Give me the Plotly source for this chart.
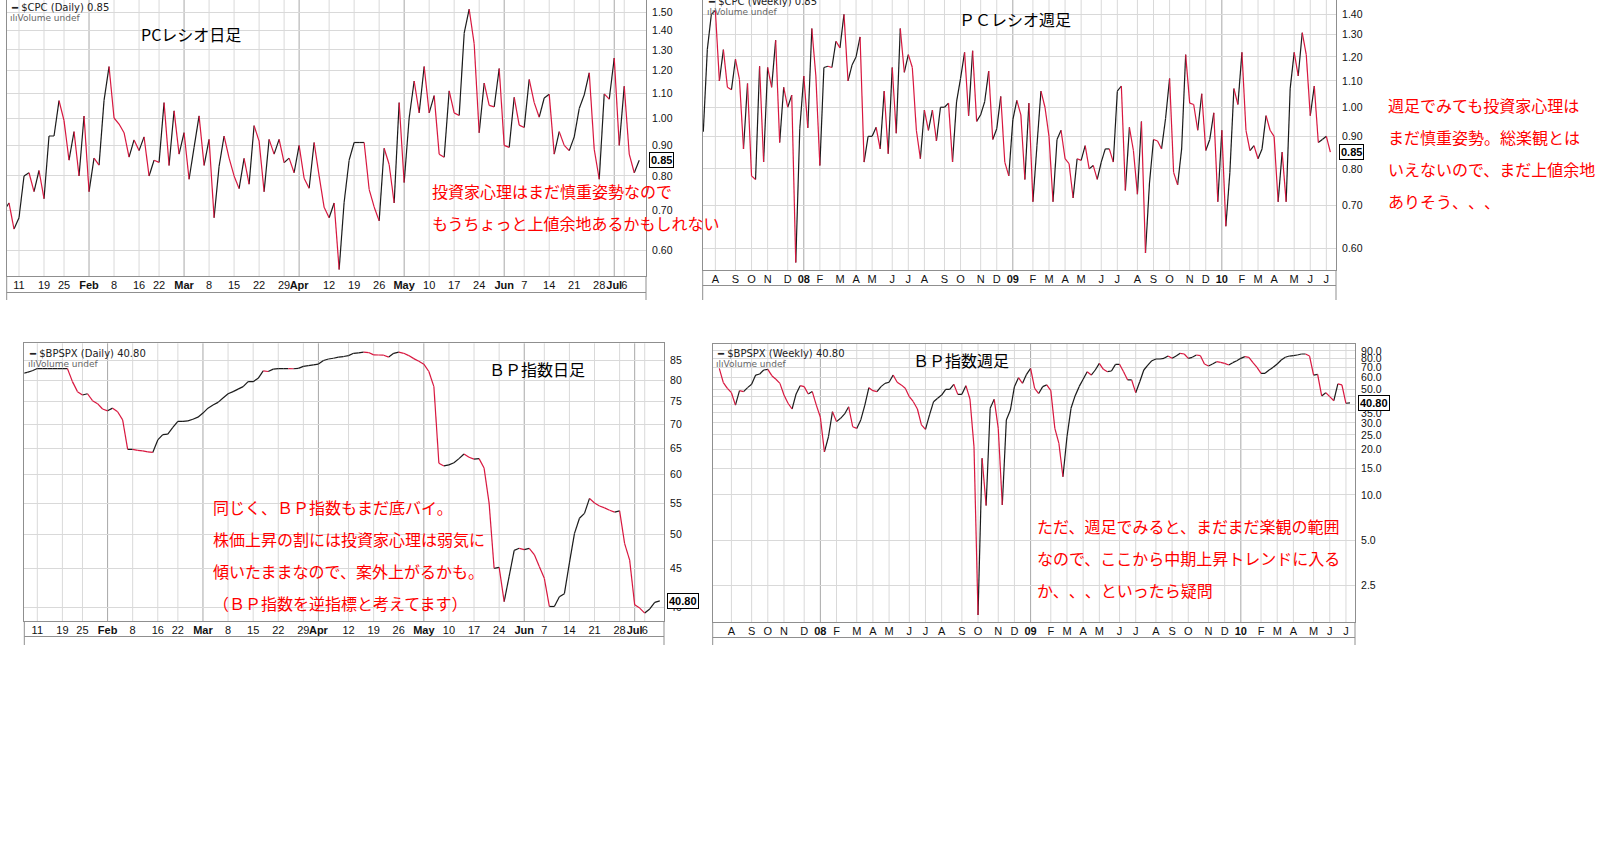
import numpy as np
import pandas as pd
import plotly.graph_objects as go

W, H = 1614, 864

# ---------------- data ----------------
holidays_2010 = ['2010-01-18', '2010-02-15', '2010-04-02', '2010-05-31', '2010-07-05']
daily_dates = [d.strftime('%Y-%m-%d') for d in pd.bdate_range('2010-01-06', '2010-07-09')
               if d.strftime('%Y-%m-%d') not in holidays_2010]
weekly_dates = list(pd.date_range('2007-07-13', periods=157, freq='7D'))

# $CPC daily (put/call ratio)
pc_daily = [
    0.70,
    0.721, 0.652, 0.681, 0.80, 0.81, 0.753, 0.817, 0.733, 0.933, 0.933, 1.069,
    0.99, 0.85, 0.949, 0.80, 1.008, 0.753, 0.857, 0.834, 1.07, 1.219,
    1.00, 0.977, 0.945, 0.86, 0.919, 0.882, 0.93, 0.80, 0.85, 0.843,
    1.061, 0.833, 1.028, 0.87, 0.945, 0.79, 0.893, 1.008, 0.833, 0.921,
    0.681, 0.83, 0.933, 0.857, 0.80, 0.762, 0.856, 0.775, 0.971, 0.915,
    0.753, 0.921, 0.87, 0.921, 0.842, 0.857, 0.81, 0.90, 0.793, 0.763,
    0.91, 0.80, 0.709, 0.681, 0.721, 0.558, 0.723, 0.85, 0.91, 0.91,
    0.91, 0.76, 0.71, 0.673, 0.89, 0.836, 0.721, 1.061, 0.78, 1.00,
    1.153, 1.02, 1.219, 1.02, 1.09, 0.87, 0.86, 1.11, 1.02, 1.01,
    1.386, 1.52, 1.33, 0.945, 1.144, 1.05, 1.044, 1.21, 0.90, 0.893,
    1.083, 0.973, 0.964, 1.16, 1.061, 1.003, 1.08, 1.096, 0.87, 0.949,
    0.90, 0.882, 0.93, 1.037, 1.093, 1.19, 0.886, 0.79, 1.097, 1.075,
    1.26, 0.90, 1.13, 0.87, 0.81, 0.85,
]

# $BPSPX daily (bullish percent index)
bp_daily = [
    81.7,
    82.0, 82.4, 82.95, 82.95, 82.95, 82.95, 82.95, 82.95, 82.95, 79.7, 77.3,
    76.5, 76.8, 75.2, 74.5, 73.3, 72.9, 73.5, 72.7, 70.9, 64.8,
    64.8, 64.6, 64.5, 64.3, 64.2, 66.7, 67.8, 67.9, 69.3, 70.6,
    70.6, 70.7, 71.05, 71.5, 72.4, 73.5, 74.2, 74.8, 75.8, 76.8,
    77.3, 77.9, 78.5, 79.7, 79.7, 80.5, 82.35, 82.2, 82.8, 82.95,
    82.95, 82.95, 82.9, 83.0, 83.5, 83.7, 83.9, 84.1, 85.0, 85.4,
    85.6, 85.9, 86.05, 86.3, 86.9, 87.0, 87.2, 87.1, 86.5, 86.45,
    86.4, 85.9, 86.9, 87.2, 86.9, 86.3, 85.5, 84.8, 84.06, 82.2,
    78.5, 62.1, 61.6, 61.8, 62.2, 63.0, 63.9, 63.25, 62.9, 63.0,
    61.2, 55.0, 45.05, 45.2, 40.7, 44.0, 47.6, 47.9, 47.7, 47.9,
    47.0, 45.3, 43.7, 40.1, 40.1, 41.3, 41.7, 45.8, 50.1, 52.5,
    53.3, 55.8, 55.0, 54.5, 54.2, 53.8, 53.5, 53.7, 48.6, 46.2,
    40.3, 39.9, 39.3, 39.8, 40.6, 40.8,
]

# $CPC weekly
pc_weekly = [
    0.915, 1.232, 1.40, 1.42, 1.10, 1.232, 1.075, 1.065, 1.19, 1.105,
    0.86, 1.09, 0.78, 0.77, 1.16, 0.82, 1.155, 1.075, 1.275, 0.88,
    1.075, 1.00, 1.045, 0.57, 0.925, 1.12, 0.928, 1.33, 1.12, 0.81,
    1.155, 1.16, 1.155, 1.27, 1.24, 1.40, 1.10, 1.165, 1.20, 1.29,
    0.82, 0.90, 0.90, 0.93, 0.86, 1.06, 0.845, 1.155, 0.91, 1.33,
    1.135, 1.21, 1.155, 0.92, 0.83, 0.99, 0.92, 0.99, 0.885, 1.00,
    1.00, 1.015, 0.82, 1.02, 1.11, 1.22, 0.97, 1.227, 0.95, 0.973,
    1.02, 1.14, 0.89, 0.925, 1.04, 0.82, 0.78, 0.955, 1.025, 0.973,
    0.77, 1.015, 0.71, 0.87, 1.06, 1.00, 0.90, 0.71, 0.89, 0.92,
    0.83, 0.815, 0.72, 0.83, 0.825, 0.87, 0.80, 0.81, 0.77, 0.82,
    0.86, 0.86, 0.82, 1.06, 1.08, 0.74, 0.93, 0.855, 0.73, 0.95,
    0.59, 0.76, 0.89, 0.885, 0.86, 0.96, 1.11, 0.79, 0.755, 0.86,
    1.21, 1.015, 1.01, 0.92, 1.05, 0.855, 0.89, 0.98, 0.71, 0.92,
    0.65, 0.79, 1.07, 1.01, 1.22, 0.92, 0.855, 0.87, 0.83, 0.86,
    0.97, 0.92, 0.90, 0.71, 0.85, 0.71, 1.07, 1.22, 1.12, 1.31,
    1.21, 0.97, 1.08, 0.88, 0.89, 0.90, 0.85,
]

# $BPSPX weekly
bp_weekly = [
    69.0, 55.5, 50.9, 47.6, 39.4, 49.1, 48.4, 51.4, 54.1, 62.3,
    63.3, 67.3, 68.0, 61.7, 58.4, 54.9, 45.9, 40.5, 37.1, 46.7,
    53.0, 52.2, 46.7, 48.4, 39.4, 32.7, 19.3, 24.3, 35.6, 30.6,
    32.2, 34.4, 38.4, 28.3, 27.6, 31.4, 39.4, 51.4, 49.1, 48.4,
    52.2, 54.9, 55.8, 62.3, 55.8, 53.6, 50.9, 44.8, 41.5, 37.1,
    29.1, 27.2, 33.9, 41.5, 43.7, 45.9, 50.1, 50.1, 54.1, 46.4,
    46.4, 53.0, 43.2, 20.9, 1.60, 17.5, 8.5, 37.5, 43.0, 27.6,
    8.57, 31.4, 36.5, 52.2, 59.9, 54.9, 63.0, 69.0, 50.9, 47.0,
    52.2, 53.6, 49.1, 27.6, 21.97, 13.2, 24.3, 37.5, 45.3, 52.2,
    58.4, 65.6, 62.3, 67.3, 74.5, 68.0, 65.6, 66.3, 73.4, 73.4,
    65.6, 57.8, 57.8, 47.6, 56.3, 67.3, 72.6, 77.6, 79.6, 79.6,
    80.4, 83.3, 80.4, 83.3, 86.8, 85.9, 80.4, 81.7, 84.6, 83.8,
    73.8, 71.5, 73.8, 76.4, 75.7, 74.5, 72.6, 75.3, 77.6, 80.4,
    82.5, 81.7, 75.3, 70.1, 64.0, 64.0, 67.3, 70.1, 73.8, 78.4,
    81.7, 83.3, 83.8, 84.6, 85.9, 85.9, 83.3, 62.3, 63.0, 45.3,
    47.6, 44.8, 42.1, 54.4, 53.6, 40.5, 40.8,
]

daily_tick_dates = ['2010-01-11', '2010-01-19', '2010-01-25', '2010-02-01', '2010-02-08',
                    '2010-02-16', '2010-02-22', '2010-03-01', '2010-03-08', '2010-03-15',
                    '2010-03-22', '2010-03-29', '2010-04-01', '2010-04-12', '2010-04-19',
                    '2010-04-26', '2010-05-03', '2010-05-10', '2010-05-17', '2010-05-24',
                    '2010-06-01', '2010-06-07', '2010-06-14', '2010-06-21', '2010-06-28',
                    '2010-07-01', '2010-07-06']
daily_tick_labels = ['11', '19', '25', 'Feb', '8', '16', '22', 'Mar', '8', '15', '22', '29',
                     'Apr', '12', '19', '26', 'May', '10', '17', '24', 'Jun', '7', '14', '21',
                     '28', 'Jul', '6']
month_letters = ['J', 'F', 'M', 'A', 'M', 'J', 'J', 'A', 'S', 'O', 'N', 'D']

pc_daily_ticks = [0.60, 0.70, 0.80, 0.90, 1.00, 1.10, 1.20, 1.30, 1.40, 1.50]
pc_weekly_ticks = [0.60, 0.70, 0.80, 0.90, 1.00, 1.10, 1.20, 1.30, 1.40]
bp_daily_ticks = [40, 45, 50, 55, 60, 65, 70, 75, 80, 85]
bp_weekly_ticks = [2.5, 5, 10, 15, 20, 25, 30, 35, 40, 45, 50, 60, 70, 80, 90]
bp_weekly_ticklabels = ['2.5', '5.0', '10.0', '15.0', '20.0', '25.0', '30.0', '35.0', '', '',
                        '50.0', '60.0', '70.0', '80.0', '90.0']

# ---------------- styling ----------------
RED = '#d8173f'
BLACK = '#1a1a1a'
GRID = '#d9d9d9'
GRID_DARK = '#a8a8a8'
FRAME = '#8f8f8f'
TICKFONT = dict(family='Liberation Sans, Arial, sans-serif', size=11, color='#111')
JP = 'Noto Sans CJK JP'


def segs(vals):
    ux, uy, dx, dy = [], [], [], []
    for i in range(1, len(vals)):
        tx, ty = (dx, dy) if vals[i] < vals[i - 1] else (ux, uy)
        tx += [i - 1, i, None]
        ty += [vals[i - 1], vals[i], None]
    return ux, uy, dx, dy


fig = go.Figure()
series = [pc_daily, pc_weekly, bp_daily, bp_weekly]
for k, vals in enumerate(series, start=1):
    ux, uy, dx, dy = segs(vals)
    xa = 'x' if k == 1 else f'x{k}'
    ya = 'y' if k == 1 else f'y{k}'
    fig.add_trace(go.Scatter(x=ux, y=uy, mode='lines', line=dict(color=BLACK, width=1.2),
                             xaxis=xa, yaxis=ya, hoverinfo='skip', showlegend=False))
    fig.add_trace(go.Scatter(x=dx, y=dy, mode='lines', line=dict(color=RED, width=1.2),
                             xaxis=xa, yaxis=ya, hoverinfo='skip', showlegend=False))

# tick positions
d_tickvals = [daily_dates.index(d) for d in daily_tick_dates]
d_ticktext = [f'<b>{t}</b>' if t.isalpha() else t for t in daily_tick_labels]
d_major = [t.isalpha() for t in daily_tick_labels]

w_tickvals, w_ticktext, w_major = [], [], []
for i in range(1, len(weekly_dates)):
    if weekly_dates[i].month != weekly_dates[i - 1].month:
        w_tickvals.append(i)
        if weekly_dates[i].month == 1:
            w_ticktext.append(f'<b>{weekly_dates[i].strftime("%y")}</b>')
            w_major.append(True)
        else:
            w_ticktext.append(month_letters[weekly_dates[i].month - 1])
            w_major.append(False)

# panel geometry (pixels): x0, x1, ytop, ybottom
panels = {
    1: dict(px=(6.7, 646), py=(0, 276), xr=(0.54, 128.35), yr=(0.5443, 1.575)),
    2: dict(px=(702.7, 1336), py=(0, 270), xr=(-0.15, 157.4), yr=(0.5547, 1.4746)),
    3: dict(px=(24.3, 664), py=(343.3, 621), xr=(0.41, 127.84), yr=(38.36, 89.6)),
    4: dict(px=(712.7, 1355), py=(344, 622), xr=(-1.63, 157.24), yr=(1.436, 100.1)),
}
ticks_cfg = {
    1: (d_tickvals, d_ticktext, d_major, pc_daily_ticks, [f'{v:.2f}' for v in pc_daily_ticks]),
    2: (w_tickvals, w_ticktext, w_major, pc_weekly_ticks, [f'{v:.2f}' for v in pc_weekly_ticks]),
    3: (d_tickvals, d_ticktext, d_major, bp_daily_ticks, [str(v) for v in bp_daily_ticks]),
    4: (w_tickvals, w_ticktext, w_major, bp_weekly_ticks, bp_weekly_ticklabels),
}

layout = {}
shapes = []
for k, p in panels.items():
    xs = '' if k == 1 else str(k)
    xv, xt, xmaj, yv, yt = ticks_cfg[k]
    layout[f'xaxis{xs}'] = dict(
        domain=[p['px'][0] / W, p['px'][1] / W], range=list(p['xr']), anchor=f'y{xs}',
        tickmode='array', tickvals=xv, ticktext=xt, tickangle=0,
        showgrid=False, zeroline=False,
        showline=True, linecolor=FRAME, linewidth=1, mirror=(k >= 3), ticks='', ticklen=0,
        ticklabelstandoff=-1,
        tickfont=TICKFONT, fixedrange=True)
    layout[f'yaxis{xs}'] = dict(
        domain=[1 - p['py'][1] / H, 1 - p['py'][0] / H], type='log',
        range=[np.log10(p['yr'][0]), np.log10(p['yr'][1])], anchor=f'x{xs}', side='right',
        tickmode='array', tickvals=yv, ticktext=yt,
        showgrid=True, gridcolor=GRID, gridwidth=1, zeroline=False,
        showline=True, linecolor=FRAME, linewidth=1, mirror=True, ticks='', ticklen=0,
        ticklabelstandoff=3,
        tickfont=dict(family='Liberation Sans, Arial, sans-serif', size=10.5, color='#111'),
        fixedrange=True)
    # vertical grid lines (darker at month / year starts)
    for v, major in zip(xv, xmaj):
        shapes.append(dict(type='line', xref=f'x{xs}', yref=f'y{xs} domain', x0=v, x1=v, y0=0, y1=1,
                           line=dict(color=GRID_DARK if major else GRID, width=1), layer='below'))


def px_(x):
    return x / W


def py_(y):
    return 1 - y / H


# frames of the (cut-off) lower indicator panels
for (x0, x1, ybot, yline, yend) in [(6.7, 646, 276, 292.5, 300), (702.7, 1336, 270, 285.5, 300),
                                     (24.3, 664, 621, 636.5, 645), (712.7, 1355, 622, 637.5, 645)]:
    for xx in (x0, x1):
        shapes.append(dict(type='line', xref='paper', yref='paper', x0=px_(xx), x1=px_(xx),
                           y0=py_(ybot), y1=py_(yend), line=dict(color=FRAME, width=1)))
    shapes.append(dict(type='line', xref='paper', yref='paper', x0=px_(x0), x1=px_(x1),
                       y0=py_(yline), y1=py_(yline), line=dict(color=FRAME, width=1)))

ann = []


def text(t, x, y, size=16, color='red', family=JP, xanchor='left'):
    ann.append(dict(text=t, x=px_(x), y=py_(y), xref='paper', yref='paper', showarrow=False,
                    xanchor=xanchor, yanchor='middle', font=dict(family=family, size=size, color=color)))


SMALL = 'DejaVu Sans, Verdana, sans-serif'
ZW = '\u200b'
# chart headers
text('━ $CPC (Daily) 0.85', 9, 7.5, size=10, color='#222', family=SMALL)
text('ılıVolume undef', 8, 17.5, size=9, color='#666', family=SMALL)
text('━ $CPC (Weekly) 0.85', 706, 1.5, size=10, color='#222', family=SMALL)
text('ılıVolume undef', 705, 12, size=9, color='#666', family=SMALL)
text('━ $BPSPX (Daily) 40.80', 27, 353, size=10, color='#222', family=SMALL)
text('ılıVolume undef', 26, 363.5, size=9, color='#666', family=SMALL)
text('━ $BPSPX (Weekly) 40.80', 715, 353.5, size=10, color='#222', family=SMALL)
text('ılıVolume undef', 714, 364, size=9, color='#666', family=SMALL)

# titles
text('PCレシオ日足', 139, 34, color='#000')
text('ＰＣレシオ週足', 957, 18.5, color='#000')
text('ＢＰ指数日足', 487, 369.5, color='#000')
text('ＢＰ指数週足', 911, 360, color='#000')

# comments
text('投資家心理はまだ慎重姿勢なので', 430, 191.5)
text('もうちょっと上値余地あるかもしれない', 430, 222.5)
for i, line in enumerate(['週足でみても投資家心理は', 'まだ慎重姿勢。総楽観とは',
                          'いえないので、まだ上値余地', 'ありそう、' + ZW + '、' + ZW + '、']):
    text(line, 1386, 105 + 32 * i)
for i, line in enumerate(['同じく、ＢＰ指数もまだ底バイ。', '株価上昇の割には投資家心理は弱気に',
                          '傾いたままなので、案外上がるかも。', '（ＢＰ指数を逆指標と考えてます）']):
    text(line, 211, 506.5 + 32 * i)
for i, line in enumerate(['ただ、週足でみると、まだまだ楽観の範囲', 'なので、ここから中期上昇トレンドに入る',
                          'か、' + ZW + '、' + ZW + '、といったら疑問']):
    text(line, 1035, 526 + 32 * i)

# last-value markers
for k, vals, label in [(1, pc_daily, '0.85'), (2, pc_weekly, '0.85'),
                       (3, bp_daily, '40.80'), (4, bp_weekly, '40.80')]:
    xs = '' if k == 1 else str(k)
    ann.append(dict(text=f'<b>{label}</b>', xref='paper', yref=f'y{xs}',
                    x=px_(panels[k]['px'][1] + 3), y=np.log10(vals[-1]), xanchor='left', yanchor='middle',
                    showarrow=False, bgcolor='white', bordercolor='#000', borderwidth=1, borderpad=1,
                    font=dict(family='Liberation Sans, Arial, sans-serif', size=11, color='#000')))

fig.update_layout(
    width=W, height=H, margin=dict(l=0, r=0, t=0, b=0),
    paper_bgcolor='white', plot_bgcolor='white',
    showlegend=False, shapes=shapes, annotations=ann, **layout)

fig.write_html('out.html', config={'displayModeBar': False},
               post_script="document.body.style.margin='0';document.body.style.overflow='hidden';")
